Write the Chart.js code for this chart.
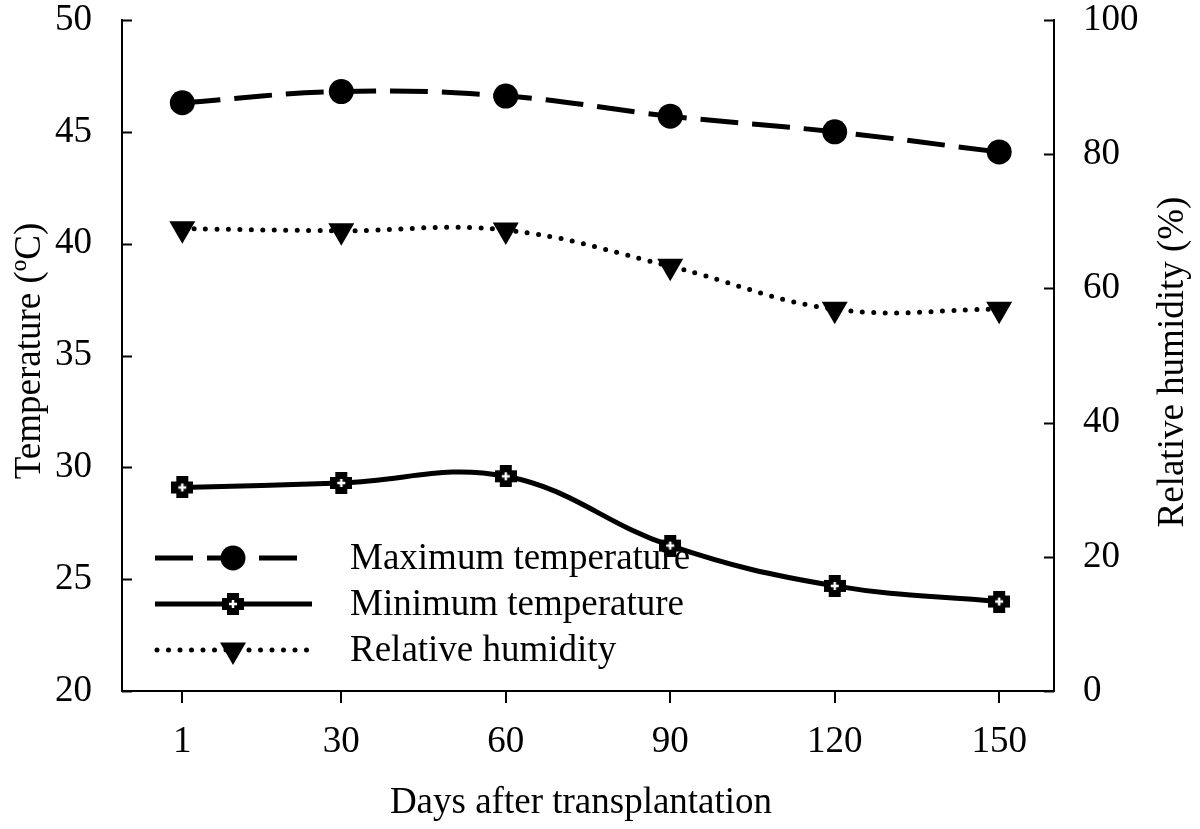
<!DOCTYPE html>
<html>
<head>
<meta charset="utf-8">
<script src="https://cdn.jsdelivr.net/npm/chart.js@4.4.0/dist/chart.umd.min.js"></script>
<style>
  html, body { margin: 0; padding: 0; background: #fff; }
  #wrap { width: 1200px; height: 829px; }
</style>
</head>
<body>
<div id="wrap"><canvas id="chart" width="1200" height="829"></canvas></div>
<script>
// values
const days = [1, 30, 60, 90, 120, 150];
const maxTemp = [46.3, 46.8, 46.6, 45.7, 45.0, 44.1];
const minTemp = [29.1, 29.3, 29.6, 26.5, 24.7, 24.0];
const humidity = [68.9, 68.6, 68.7, 63.3, 56.9, 56.9];

const xTicks = [1, 30, 60, 90, 120, 150];
const tempTicks = [20, 25, 30, 35, 40, 45, 50];
const rhTicks = [0, 20, 40, 60, 80, 100];
const seriesNames = ['Maximum temperature', 'Minimum temperature', 'Relative humidity'];

const FONT = '"Liberation Serif", "Times New Roman", serif';
const FS = 37;
Chart.defaults.font.family = FONT;
Chart.defaults.color = '#000';

// thick plus with a small white cross inside
function plusMarker() {
    const c = document.createElement('canvas');
    c.width = 22; c.height = 22;
    const g = c.getContext('2d');
    g.fillStyle = '#000';
    g.fillRect(5, 0, 12, 22);
    g.fillRect(0, 5, 22, 12);
    g.fillStyle = '#fff';
    g.fillRect(9.75, 7, 2.5, 8);
    g.fillRect(7, 9.75, 8, 2.5);
    return c;
}
const plusImg = plusMarker();

function toPoints(ys) {
    return days.map((d, i) => ({ x: d, y: ys[i] }));
}

function fixWidth(w) {
    return function (scale) {
        scale.width = w;
        scale.paddingTop = 0; scale.paddingBottom = 0;
        scale.paddingLeft = 0; scale.paddingRight = 0;
    };
}

const extras = {
    id: 'extras',
    afterDatasetsDraw(chart) {
        const ctx = chart.ctx;
        const yl = chart.scales.y, yr = chart.scales.y2;
        ctx.save();
        ctx.strokeStyle = '#000';
        ctx.lineWidth = 2;
        // inward ticks on both temperature and humidity axes
        tempTicks.forEach(v => {
            const p = Math.round(yl.getPixelForValue(v)) + 0.5;
            ctx.beginPath(); ctx.moveTo(yl.right, p); ctx.lineTo(yl.right + 10, p); ctx.stroke();
        });
        rhTicks.forEach(v => {
            const p = Math.round(yr.getPixelForValue(v)) + 0.5;
            ctx.beginPath(); ctx.moveTo(yr.left, p); ctx.lineTo(yr.left - 10, p); ctx.stroke();
        });
        ctx.restore();
    },
    afterDraw(chart) {
        const ctx = chart.ctx;
        ctx.save();
        ctx.fillStyle = '#000';
        ctx.font = FS + 'px ' + FONT;
        ctx.textAlign = 'center';
        ctx.textBaseline = 'middle';

        // axis titles
        ctx.fillText('Days after transplantation', 581, 803);
        ctx.save();
        ctx.translate(30, 351);
        ctx.rotate(-Math.PI / 2);
        ctx.fillText('Temperature (ºC)', 0, 0);
        ctx.restore();
        ctx.save();
        ctx.translate(1173, 362);
        ctx.rotate(-Math.PI / 2);
        ctx.fillText('Relative humidity (%)', 0, 0);
        ctx.restore();

        // legend
        const rows = [558, 604, 650];
        const x0 = 155, xm = 233;
        ctx.strokeStyle = '#000';
        ctx.lineWidth = 5;

        ctx.setLineDash([38, 14]);
        ctx.beginPath(); ctx.moveTo(x0, rows[0]); ctx.lineTo(297, rows[0]); ctx.stroke();
        ctx.setLineDash([]);
        ctx.beginPath(); ctx.arc(xm, rows[0], 12.5, 0, Math.PI * 2); ctx.fill();

        ctx.beginPath(); ctx.moveTo(x0, rows[1]); ctx.lineTo(312, rows[1]); ctx.stroke();
        ctx.drawImage(plusImg, xm - 11, rows[1] - 11);

        ctx.lineCap = 'round';
        ctx.setLineDash([0, 11.5]);
        ctx.beginPath(); ctx.moveTo(x0 + 2, rows[2]); ctx.lineTo(312, rows[2]); ctx.stroke();
        ctx.setLineDash([]);
        ctx.beginPath();
        ctx.moveTo(xm, rows[2] + 15);
        ctx.lineTo(xm - 13, rows[2] - 7.5);
        ctx.lineTo(xm + 13, rows[2] - 7.5);
        ctx.closePath(); ctx.fill();

        ctx.textAlign = 'left';
        seriesNames.forEach((n, i) => ctx.fillText(n, 350, rows[i] + 1));
        ctx.restore();
    }
};

new Chart(document.getElementById('chart'), {
    type: 'line',
    data: {
        datasets: [{
            label: seriesNames[0],
            data: toPoints(maxTemp),
            yAxisID: 'y',
            borderColor: '#000',
            backgroundColor: '#000',
            borderWidth: 5,
            borderDash: [38, 14],
            pointStyle: 'circle',
            pointRadius: 12.5,
            pointBorderWidth: 0,
            tension: 0.4
        }, {
            label: seriesNames[1],
            data: toPoints(minTemp),
            yAxisID: 'y',
            borderColor: '#000',
            backgroundColor: '#000',
            borderWidth: 5,
            pointStyle: plusImg,
            tension: 0.4
        }, {
            label: seriesNames[2],
            data: toPoints(humidity),
            yAxisID: 'y2',
            borderColor: '#000',
            backgroundColor: '#000',
            borderWidth: 5,
            borderDash: [0, 11.5],
            borderCapStyle: 'round',
            pointStyle: 'triangle',
            pointRotation: 180,
            pointRadius: 15,
            pointBorderWidth: 0,
            tension: 0.4
        }]
    },
    options: {
        responsive: false,
        animation: false,
        layout: { padding: { top: 20, left: 0, right: 0, bottom: 0 } },
        plugins: { legend: { display: false }, tooltip: { enabled: false } },
        scales: {
            x: {
                type: 'linear',
                min: -10,
                max: 160,
                afterBuildTicks: s => { s.ticks = xTicks.map(v => ({ value: v })); },
                afterFit: s => { s.height = 138; s.paddingLeft = 0; s.paddingRight = 0; },
                grid: { display: true, drawOnChartArea: false, drawTicks: true, tickLength: 12, color: '#000', lineWidth: 2 },
                border: { display: true, color: '#000', width: 2 },
                ticks: { font: { size: FS }, padding: 17, maxRotation: 0, autoSkip: false }
            },
            y: {
                position: 'left',
                min: 20,
                max: 50,
                afterBuildTicks: s => { s.ticks = tempTicks.map(v => ({ value: v })); },
                afterFit: fixWidth(122),
                grid: { display: false },
                border: { display: true, color: '#000', width: 2 },
                ticks: { font: { size: FS }, padding: 22 }
            },
            y2: {
                position: 'right',
                min: 0,
                max: 100,
                afterBuildTicks: s => { s.ticks = rhTicks.map(v => ({ value: v })); },
                afterFit: fixWidth(146),
                grid: { display: false },
                border: { display: true, color: '#000', width: 2 },
                ticks: { font: { size: FS }, padding: 21 }
            }
        }
    },
    plugins: [extras]
});
</script>
</body>
</html>
